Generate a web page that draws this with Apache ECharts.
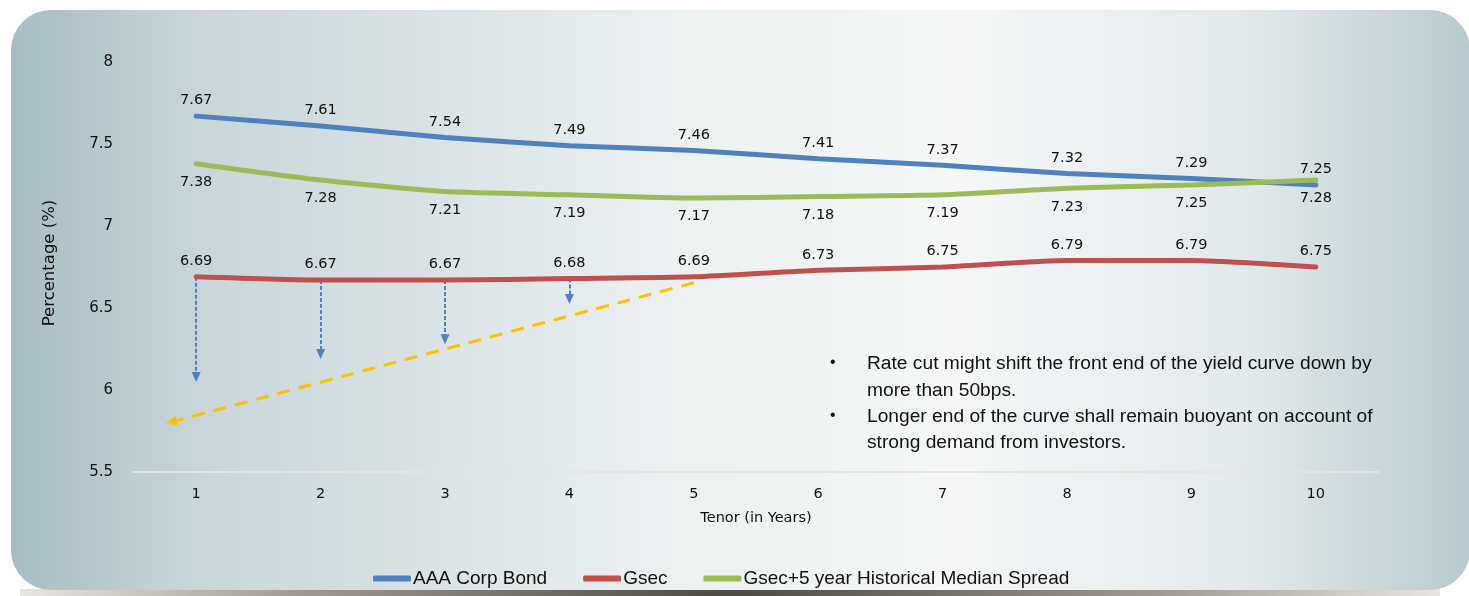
<!DOCTYPE html>
<html><head><meta charset="utf-8">
<script src="https://cdn.jsdelivr.net/npm/echarts@6/dist/echarts.min.js"></script>
<style>html,body{margin:0;padding:0;background:#fff}#c{width:1469px;height:596px}</style>
</head><body><div id="c"></div>
<script>
const categories = ['1','2','3','4','5','6','7','8','9','10'];
const aaaCorpBond = [7.67, 7.61, 7.54, 7.49, 7.46, 7.41, 7.37, 7.32, 7.29, 7.25];
const gsec = [6.69, 6.67, 6.67, 6.68, 6.69, 6.73, 6.75, 6.79, 6.79, 6.75];
const gsecSpread = [7.38, 7.28, 7.21, 7.19, 7.17, 7.18, 7.19, 7.23, 7.25, 7.28];
// annotation arrows: [tenor, from, to]
const cutArrows = [[1, 6.69, 6.08], [2, 6.67, 6.22], [3, 6.67, 6.31], [4, 6.68, 6.555]];
const trendLine = [[5, 6.654], [0.80, 5.805]];
const notes = [
  'Rate cut might shift the front end of the yield curve down by',
  'more than 50bps.',
  'Longer end of the curve shall remain buoyant on account of',
  'strong demand from investors.'
];
const seriesNames = ['AAA Corp Bond', 'Gsec', 'Gsec+5 year Historical Median Spread'];
const colors = ['#4F81BD', '#C0504D', '#9BBB59'];

const chart = echarts.init(document.getElementById('c'));
const labelFont = {fontFamily: 'DejaVu Sans', fontSize: 14.5, color: '#111'};
const noteFont = 'Liberation Sans Narrow, Arial Narrow, sans-serif';

function mkSeries(name, data, color, pos, dist) {
  return {
    name, type: 'line', data, smooth: 0.2, symbol: 'circle', symbolSize: 0,
    showSymbol: true, z: 5,
    lineStyle: {color, width: 5, cap: 'round'},
    itemStyle: {color},
    label: Object.assign({show: true, position: pos, distance: dist}, labelFont),
    emphasis: {disabled: true}
  };
}

const arrowSeries = cutArrows.map(a => ({
  type: 'line', xAxisIndex: 1, data: [], silent: true,
  markLine: {
    silent: true, animation: false,
    symbol: ['none', 'triangle'], symbolSize: [9, 10],
    label: {show: false},
    lineStyle: {color: '#4F81BD', type: [4, 2], width: 2},
    data: [[{coord: [a[0], a[1]]}, {coord: [a[0], a[2]]}]]
  }
}));

const trendSeries = {
  type: 'line', xAxisIndex: 1, data: [], silent: true,
  markLine: {
    silent: true, animation: false,
    symbol: ['none', 'triangle'], symbolSize: [10, 11],
    label: {show: false},
    lineStyle: {color: '#FFC000', type: [13, 9], width: 3},
    data: [[{coord: trendLine[0]}, {coord: trendLine[1]}]]
  }
};

const graphics = [
  {type: 'rect', z: -10, silent: true,
   shape: {x: 11, y: 10, width: 1459, height: 580, r: 40},
   style: {fill: {type: 'linear', x: 0, y: 0, x2: 1, y2: 0, colorStops: [
     {offset: 0, color: '#A8BCC3'}, {offset: 0.13, color: '#C8D6DA'},
     {offset: 0.45, color: '#EBF0F1'}, {offset: 0.65, color: '#F5F7F8'},
     {offset: 0.85, color: '#E2E9EB'}, {offset: 1, color: '#B8CACF'}]}}},
  {type: 'rect', z: -11, silent: true,
   shape: {x: 20, y: 589, width: 1420, height: 7},
   style: {fill: {type: 'linear', x: 0, y: 0, x2: 1, y2: 0, colorStops: [
     {offset: 0, color: '#E8E6E2'}, {offset: 0.2, color: '#9E9890'},
     {offset: 0.5, color: '#4E4A44'}, {offset: 0.8, color: '#9E9890'},
     {offset: 1, color: '#E8E6E2'}]}}}
];
const lineY = [365, 392, 418, 444];
notes.forEach((t, i) => {
  if (i === 0 || i === 2) {
    graphics.push({type: 'text', left: 830, top: lineY[i] - 10, silent: true,
      style: {text: '•', font: '16px ' + noteFont, fill: '#111'}});
  }
  graphics.push({type: 'text', left: 867, top: lineY[i] - 11, silent: true,
    style: {text: t, font: '19.2px ' + noteFont, fill: '#111'}});
});

chart.setOption({
  animation: false,
  backgroundColor: '#fff',
  graphic: graphics,
  grid: {left: 134, right: 91, top: 62, bottom: 124},
  legend: {
    left: 368, top: 564, itemWidth: 38, itemHeight: 6, itemGap: 36,
    icon: 'roundRect',
    textStyle: {fontFamily: noteFont, fontSize: 19, color: '#111', padding: [0, 0, 0, -3]},
    data: seriesNames
  },
  xAxis: [{
    type: 'category', data: categories, boundaryGap: true,
    name: 'Tenor (in Years)', nameLocation: 'middle', nameGap: 39,
    nameTextStyle: {fontFamily: 'DejaVu Sans', fontSize: 14.5, color: '#111'},
    axisLine: {lineStyle: {color: '#E6E4E0', width: 2}},
    axisTick: {show: false},
    axisLabel: {fontFamily: 'DejaVu Sans', fontSize: 14.5, color: '#111', margin: 15},
    splitLine: {show: false}
  }, {
    type: 'value', min: 0.5, max: 10.5, show: false
  }],
  yAxis: {
    type: 'value', min: 5.5, max: 8, interval: 0.5,
    name: 'Percentage (%)', nameLocation: 'middle', nameGap: 76, nameRotate: 90,
    nameTextStyle: {fontFamily: 'DejaVu Sans', fontSize: 16.5, color: '#111', padding: [0, 0, 0, 8]},
    axisLine: {show: false}, axisTick: {show: false},
    axisLabel: {fontFamily: 'DejaVu Sans', fontSize: 15, color: '#111', margin: 21},
    splitLine: {show: false}
  },
  series: [
    mkSeries(seriesNames[0], aaaCorpBond, colors[0], 'top', 8),
    mkSeries(seriesNames[1], gsec, colors[1], 'top', 8),
    mkSeries(seriesNames[2], gsecSpread, colors[2], 'bottom', 11),
    ...arrowSeries,
    trendSeries
  ]
});
</script></body></html>
